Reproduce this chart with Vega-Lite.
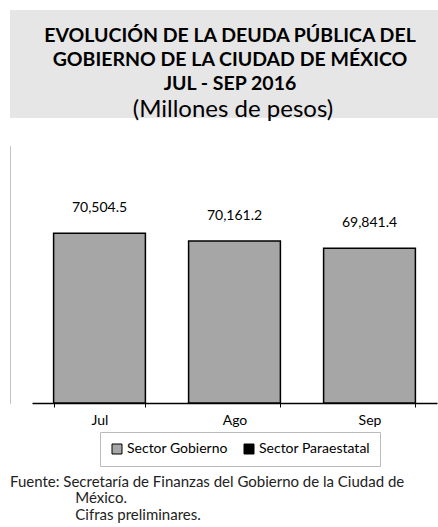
{
  "$schema": "https://vega.github.io/schema/vega-lite/v6.json",
  "padding": {"left": 10, "top": 10, "right": 0, "bottom": 0},
  "background": "white",
  "config": {"font": "Lato", "view": {"stroke": null}, "concat": {"spacing": 22}},
  "title": {
    "text": "Fuente: Secretaría de Finanzas del Gobierno de la Ciudad de",
    "subtitle": ["\u200b\u00a0\u00a0\u00a0\u00a0\u00a0\u00a0\u00a0\u00a0\u00a0\u00a0\u00a0\u00a0\u00a0\u00a0\u00a0\u00a0\u00a0México.", "\u200b\u00a0\u00a0\u00a0\u00a0\u00a0\u00a0\u00a0\u00a0\u00a0\u00a0\u00a0\u00a0\u00a0\u00a0\u00a0\u00a0\u00a0Cifras preliminares."],
    "orient": "bottom",
    "anchor": "start",
    "frame": "group",
    "font": "Lato",
    "fontSize": 15,
    "fontWeight": "normal",
    "color": "#222222",
    "subtitleFont": "Lato",
    "subtitleFontSize": 15,
    "subtitleColor": "#222222",
    "subtitlePadding": 1,
    "subtitleLineHeight": 17,
    "offset": 8
  },
  "vconcat": [
    {
      "width": 428,
      "height": 108,
      "view": {"fill": "#e6e6e6", "stroke": null},
      "data": {"values": [
        {"linea": 1, "texto": "EVOLUCIÓN DE LA DEUDA PÚBLICA DEL", "estilo": "negrita"},
        {"linea": 2, "texto": "GOBIERNO DE LA CIUDAD DE MÉXICO", "estilo": "negrita"},
        {"linea": 3, "texto": "JUL - SEP 2016", "estilo": "negrita"},
        {"linea": 4, "texto": "(Millones de pesos)", "estilo": "normal"}
      ]},
      "encoding": {
        "y": {"field": "linea", "type": "ordinal", "scale": {"type": "point", "domain": [1, 2, 3, 4], "padding": 0.72}, "axis": null},
        "text": {"field": "texto"}
      },
      "layer": [
        {"transform": [{"filter": "datum.estilo == 'negrita'"}], "mark": {"type": "text", "font": "Lato", "fontWeight": "bold", "fontSize": 19.5, "color": "black", "dx": 6, "dy": 8}},
        {"transform": [{"filter": "datum.estilo == 'normal'"}], "mark": {"type": "text", "font": "Lato", "fontSize": 24, "color": "black", "dx": 9, "dy": 10}}
      ]
    },
    {
      "width": 428,
      "height": 258,
      "data": {"values": [
        {"mes": "Jul", "sector": "Sector Gobierno", "deuda": 70504.5},
        {"mes": "Ago", "sector": "Sector Gobierno", "deuda": 70161.2},
        {"mes": "Sep", "sector": "Sector Gobierno", "deuda": 69841.4}
      ]},
      "encoding": {
        "x": {"field": "mes", "type": "nominal", "sort": null,
          "scale": {"range": [22, 427], "paddingInner": 0.32, "paddingOuter": 0.16},
          "axis": {"title": null, "labelAngle": 0, "labelFontSize": 14, "labelColor": "black", "labelPadding": 6, "domainColor": "black", "domainWidth": 1.5, "tickColor": "black", "tickSize": 4, "tickBand": "extent"}},
        "y": {"field": "deuda", "type": "quantitative",
          "scale": {"domain": [63000, 74400], "zero": false, "nice": false},
          "axis": {"title": null, "labels": false, "ticks": false, "grid": false, "domainDash": [1, 1], "domainColor": "#888888"}}
      },
      "layer": [
        {"mark": {"type": "bar", "stroke": "black", "strokeWidth": 1.5},
         "encoding": {
           "y2": {"datum": 63000},
           "color": {"field": "sector", "type": "nominal",
           "scale": {"domain": ["Sector Gobierno", "Sector Paraestatal"], "range": ["#a6a6a6", "#000000"]},
           "legend": {"title": null, "orient": "none", "legendX": 90, "legendY": 422, "direction": "horizontal", "symbolType": "square", "symbolSize": 100, "symbolOpacity": 1, "labelFontSize": 14, "labelColor": "black", "symbolStrokeColor": "black", "symbolStrokeWidth": 1, "strokeColor": "#bbbbbb", "padding": 10, "columnPadding": 14, "labelOffset": 3}}}},
        {"mark": {"type": "text", "dy": -25, "fontSize": 14, "color": "black"},
         "encoding": {"text": {"field": "deuda", "type": "quantitative", "format": ",.1f"}}}
      ]
    }
  ]
}
